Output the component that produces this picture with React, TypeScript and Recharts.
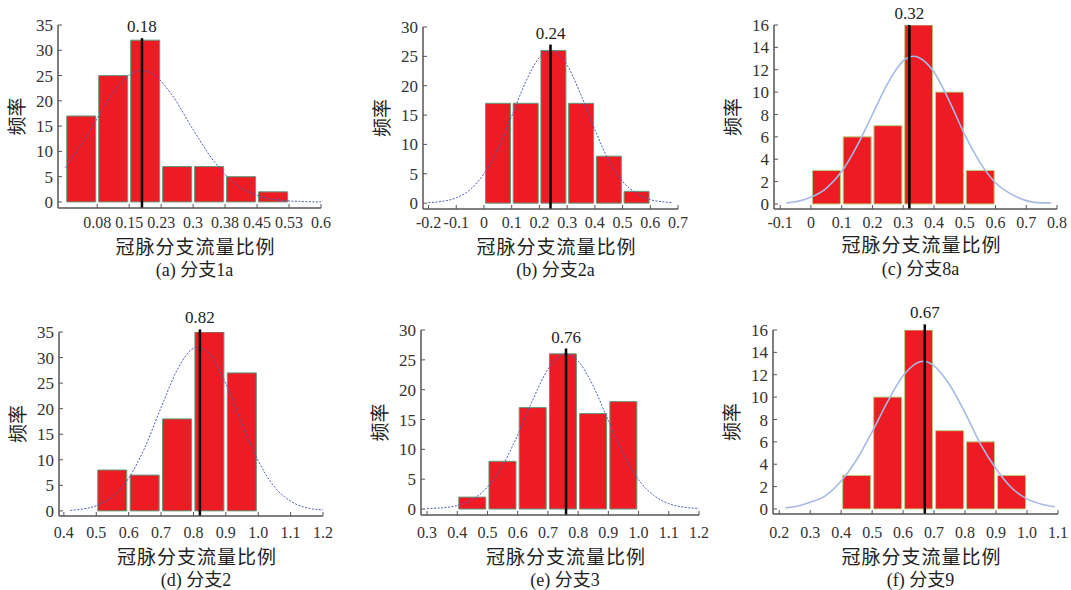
import { ComposedChart, Bar, Line, XAxis, YAxis, ReferenceLine } from "recharts";

// 冠脉分支流量比例的频率直方图 + 拟合曲线

// (a) 分支1a
const binsA = [0.0375, 0.1125, 0.1875, 0.2625, 0.3375, 0.4125, 0.4875];
const countsA = [17, 25, 32, 7, 7, 5, 2];
const fitXA = [0, 0.05, 0.1, 0.15, 0.18, 0.2, 0.25, 0.3, 0.35, 0.4, 0.45, 0.5, 0.55, 0.6];
const fitYA = [6.8, 12.9, 20.0, 25.1, 26.0, 25.6, 21.2, 14.3, 7.9, 3.5, 1.3, 0.4, 0.1, 0.0];
const xTicksA = [0.075, 0.15, 0.225, 0.3, 0.375, 0.45, 0.525, 0.6];
const xLabelsA = ["0.08", "0.15", "0.23", "0.3", "0.38", "0.45", "0.53", "0.6"];

// (b) 分支2a
const binsB = [0.05, 0.15, 0.25, 0.35, 0.45, 0.55];
const countsB = [17, 17, 26, 17, 8, 2];
const fitXB = [-0.2, -0.15, -0.1, -0.05, 0, 0.05, 0.1, 0.15, 0.2, 0.24, 0.3, 0.35, 0.4, 0.45, 0.5, 0.55, 0.6, 0.65, 0.68];
const fitYB = [0.1, 0.3, 0.9, 2.3, 5.0, 9.2, 14.8, 20.6, 24.8, 26.0, 23.5, 18.4, 12.5, 7.3, 3.7, 1.7, 0.6, 0.2, 0.1];
const xTicksB = [-0.2, -0.1, 0, 0.1, 0.2, 0.3, 0.4, 0.5, 0.6, 0.7];
const xLabelsB = ["-0.2", "-0.1", "0", "0.1", "0.2", "0.3", "0.4", "0.5", "0.6", "0.7"];

// (c) 分支8a
const binsC = [0.05, 0.15, 0.25, 0.35, 0.45, 0.55];
const countsC = [3, 6, 7, 16, 10, 3];
const fitXC = [-0.08, -0.05, 0, 0.05, 0.1, 0.15, 0.2, 0.25, 0.3, 0.335, 0.35, 0.4, 0.45, 0.5, 0.55, 0.6, 0.65, 0.7, 0.75, 0.78];
const fitYC = [0.1, 0.2, 0.6, 1.4, 2.9, 5.2, 8.0, 10.8, 12.8, 13.2, 13.1, 11.8, 9.2, 6.2, 3.7, 1.9, 0.9, 0.3, 0.1, 0.1];
const xTicksC = [-0.1, 0, 0.1, 0.2, 0.3, 0.4, 0.5, 0.6, 0.7, 0.8];
const xLabelsC = ["-0.1", "0", "0.1", "0.2", "0.3", "0.4", "0.5", "0.6", "0.7", "0.8"];

// (d) 分支2
const binsD = [0.55, 0.65, 0.75, 0.85, 0.95];
const countsD = [8, 7, 18, 35, 27];
const fitXD = [0.42, 0.45, 0.5, 0.55, 0.6, 0.65, 0.7, 0.75, 0.8, 0.815, 0.85, 0.9, 0.95, 1.0, 1.05, 1.1, 1.15, 1.2];
const fitYD = [0.1, 0.3, 1.0, 2.8, 6.4, 12.4, 20.2, 27.6, 31.8, 32.0, 30.7, 24.9, 17.0, 9.8, 4.7, 1.9, 0.6, 0.2];
const xTicksD = [0.4, 0.5, 0.6, 0.7, 0.8, 0.9, 1.0, 1.1, 1.2];
const xLabelsD = ["0.4", "0.5", "0.6", "0.7", "0.8", "0.9", "1.0", "1.1", "1.2"];

// (e) 分支3
const binsE = [0.45, 0.55, 0.65, 0.75, 0.85, 0.95];
const countsE = [2, 8, 17, 26, 16, 18];
const fitXE = [0.3, 0.35, 0.4, 0.45, 0.5, 0.55, 0.6, 0.65, 0.7, 0.76, 0.8, 0.85, 0.9, 0.95, 1.0, 1.05, 1.1, 1.15, 1.2];
const fitYE = [0.1, 0.2, 0.6, 1.6, 3.7, 7.3, 12.4, 18.3, 23.4, 26.0, 24.8, 20.6, 14.8, 9.2, 4.9, 2.3, 0.9, 0.3, 0.1];
const xTicksE = [0.3, 0.4, 0.5, 0.6, 0.7, 0.8, 0.9, 1.0, 1.1, 1.2];
const xLabelsE = ["0.3", "0.4", "0.5", "0.6", "0.7", "0.8", "0.9", "1.0", "1.1", "1.2"];

// (f) 分支9
const binsF = [0.45, 0.55, 0.65, 0.75, 0.85, 0.95];
const countsF = [3, 10, 16, 7, 6, 3];
const fitXF = [0.22, 0.25, 0.3, 0.35, 0.4, 0.45, 0.5, 0.55, 0.6, 0.665, 0.7, 0.75, 0.8, 0.85, 0.9, 0.95, 1.0, 1.05, 1.09];
const fitYF = [0.1, 0.2, 0.6, 1.2, 2.5, 4.4, 6.9, 9.6, 11.9, 13.2, 12.8, 11.1, 8.6, 5.8, 3.6, 1.9, 0.9, 0.4, 0.2];
const xTicksF = [0.2, 0.3, 0.4, 0.5, 0.6, 0.7, 0.8, 0.9, 1.0, 1.1];
const xLabelsF = ["0.2", "0.3", "0.4", "0.5", "0.6", "0.7", "0.8", "0.9", "1.0", "1.1"];

const yTicks35 = [0, 5, 10, 15, 20, 25, 30, 35];
const yTicks30 = [0, 5, 10, 15, 20, 25, 30];
const yTicks16 = [0, 2, 4, 6, 8, 10, 12, 14, 16];

// 均值竖线及其高度
const means = [0.18, 0.24, 0.32, 0.82, 0.76, 0.67];
const meanTops = [32.4, 27, 16, 35.5, 26.9, 16.5];
const captions = ["(a) 分支1a", "(b) 分支2a", "(c) 分支8a", "(d) 分支2", "(e) 分支3", "(f) 分支9"];

const serif = '"Liberation Serif", "Times New Roman", serif';
const cjk = '"Noto Sans CJK SC", sans-serif';

interface Box {
  left: number;
  right: number;
  top: number;
  bottom: number;
  titleGap: number;
  tickGap: number;
  captionY: number;
}

interface PanelProps {
  bins: number[];
  counts: number[];
  fitX: number[];
  fitY: number[];
  xTicks: number[];
  xLabels: string[];
  xDomain: [number, number];
  yTicks: number[];
  yDomain: [number, number];
  mean: number;
  meanTop: number;
  caption: string;
  box: Box;
  light: boolean;
}

const Panel = (p: PanelProps) => {
  const mTop = 32;
  const mLeft = 17;
  const yW = 41;
  const mRight = 13;
  const left = p.box.left - mLeft - yW;
  const top = p.box.top - mTop;
  const width = p.box.right - left + mRight;
  const height = mTop + (p.box.bottom - p.box.top) + p.box.titleGap + 4;
  const bars = p.bins.map((x, i) => ({ x, count: p.counts[i] }));
  const fit = p.fitX.map((x, i) => ({ x, y: p.fitY[i] }));
  const cx = (p.box.left + p.box.right) / 2 + 5;

  return (
    <>
      <div style={{ position: "absolute", left, top, fontFamily: serif }}>
        <ComposedChart
          width={width}
          height={height}
          data={bars}
          margin={{ top: mTop, right: mRight, bottom: 4, left: mLeft }}
          barCategoryGap={1.5}
          style={{ fontFamily: serif }}
        >
          <XAxis
            dataKey="x"
            type="number"
            domain={p.xDomain}
            ticks={p.xTicks}
            interval={0}
            allowDataOverflow
            height={p.box.titleGap}
            tickFormatter={(v: number) => p.xLabels[p.xTicks.indexOf(v)] ?? String(v)}
            tick={{ fill: "#333", fontSize: 16, fontFamily: serif }}
            axisLine={{ stroke: "#555", strokeWidth: 1.5 }}
            tickLine={{ stroke: "#555" }}
            tickSize={-4}
            tickMargin={p.box.tickGap}
            label={{
              value: "冠脉分支流量比例",
              position: "insideBottom",
              offset: 0,
              dx: 6,
              fill: "#222",
              fontSize: 19,
              fontFamily: cjk,
              letterSpacing: 1,
            }}
          />
          <XAxis xAxisId="curve" dataKey="x" type="number" domain={p.xDomain} allowDataOverflow hide />
          <YAxis
            type="number"
            domain={p.yDomain}
            ticks={p.yTicks}
            interval={0}
            allowDataOverflow
            width={yW}
            tick={{ fill: "#333", fontSize: 17, fontFamily: serif }}
            axisLine={{ stroke: "#555", strokeWidth: 1.5 }}
            tickLine={{ stroke: "#555" }}
            tickSize={-4}
            tickMargin={9}
            label={{
              value: "频率",
              angle: -90,
              position: "insideLeft",
              offset: 0,
              fill: "#222",
              fontSize: 19,
              fontFamily: cjk,
              style: { textAnchor: "middle" },
            }}
          />
          <Bar
            dataKey="count"
            fill="#ED1C24"
            stroke={p.light ? "#b9d27a" : "#5f9c7c"}
            strokeWidth={1}
            isAnimationActive={false}
          />
          <Line
            xAxisId="curve"
            data={fit}
            dataKey="y"
            type="monotone"
            dot={false}
            stroke={p.light ? "#a7b9e4" : "#4d5cb8"}
            strokeWidth={p.light ? 1.6 : 1}
            strokeDasharray={p.light ? undefined : "2 1.5"}
            isAnimationActive={false}
          />
          <ReferenceLine
            segment={[
              { x: p.mean, y: p.yDomain[0] },
              { x: p.mean, y: p.meanTop },
            ]}
            ifOverflow="visible"
            stroke="#000"
            strokeWidth={2.5}
            label={{ value: String(p.mean), position: "top", offset: 6, fill: "#222", fontSize: 17, fontFamily: serif }}
          />
        </ComposedChart>
      </div>
      <div
        style={{
          position: "absolute",
          left: cx - 70,
          width: 140,
          top: p.box.captionY - 9,
          textAlign: "center",
          fontSize: 18,
          lineHeight: "18px",
          color: "#222",
          fontFamily: '"Liberation Serif", "Noto Sans CJK SC", serif',
        }}
      >
        {p.caption}
      </div>
    </>
  );
};

export default function App() {
  return (
    <div style={{ position: "absolute", left: 0, top: 0, width: 1071, height: 590, background: "#fff", overflow: "hidden" }}>
      <Panel
        bins={binsA} counts={countsA} fitX={fitXA} fitY={fitYA}
        xTicks={xTicksA} xLabels={xLabelsA} xDomain={[-0.017, 0.6]}
        yTicks={yTicks35} yDomain={[-1.2, 35]}
        mean={means[0]} meanTop={meanTops[0]} caption={captions[0]}
        box={{ left: 58, right: 321, top: 25, bottom: 208, titleGap: 46, tickGap: 13, captionY: 270 }}
        light={false}
      />
      <Panel
        bins={binsB} counts={countsB} fitX={fitXB} fitY={fitYB}
        xTicks={xTicksB} xLabels={xLabelsB} xDomain={[-0.22, 0.7]}
        yTicks={yTicks30} yDomain={[-1, 30]}
        mean={means[1]} meanTop={meanTops[1]} caption={captions[1]}
        box={{ left: 423, right: 678, top: 27, bottom: 209, titleGap: 45, tickGap: 12, captionY: 270 }}
        light={false}
      />
      <Panel
        bins={binsC} counts={countsC} fitX={fitXC} fitY={fitYC}
        xTicks={xTicksC} xLabels={xLabelsC} xDomain={[-0.12, 0.8]}
        yTicks={yTicks16} yDomain={[-0.45, 16]}
        mean={means[2]} meanTop={meanTops[2]} caption={captions[2]}
        box={{ left: 774, right: 1057, top: 25, bottom: 209, titleGap: 43, tickGap: 12, captionY: 269 }}
        light={true}
      />
      <Panel
        bins={binsD} counts={countsD} fitX={fitXD} fitY={fitYD}
        xTicks={xTicksD} xLabels={xLabelsD} xDomain={[0.385, 1.2]}
        yTicks={yTicks35} yDomain={[-1, 35]}
        mean={means[3]} meanTop={meanTops[3]} caption={captions[3]}
        box={{ left: 59, right: 323, top: 332, bottom: 516, titleGap: 48, tickGap: 15, captionY: 580 }}
        light={false}
      />
      <Panel
        bins={binsE} counts={countsE} fitX={fitXE} fitY={fitYE}
        xTicks={xTicksE} xLabels={xLabelsE} xDomain={[0.28, 1.2]}
        yTicks={yTicks30} yDomain={[-1, 30]}
        mean={means[4]} meanTop={meanTops[4]} caption={captions[4]}
        box={{ left: 421, right: 699, top: 330, bottom: 515, titleGap: 49, tickGap: 16, captionY: 580 }}
        light={false}
      />
      <Panel
        bins={binsF} counts={countsF} fitX={fitXF} fitY={fitYF}
        xTicks={xTicksF} xLabels={xLabelsF} xDomain={[0.18, 1.1]}
        yTicks={yTicks16} yDomain={[-0.45, 16]}
        mean={means[5]} meanTop={meanTops[5]} caption={captions[5]}
        box={{ left: 773, right: 1058, top: 330, bottom: 514, titleGap: 50, tickGap: 17, captionY: 580 }}
        light={true}
      />
    </div>
  );
}
